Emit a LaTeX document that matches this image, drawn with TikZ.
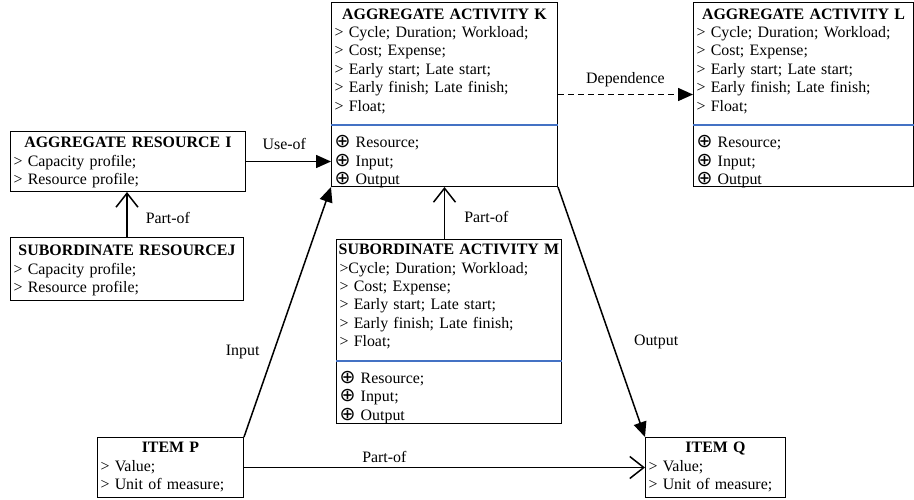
\documentclass[tikz,border=0pt]{standalone}
\usepackage{fontspec}
\setmainfont{Liberation Serif}
\newfontfamily\symfont{DejaVu Sans}
\usepackage{xcolor}
\definecolor{sepblue}{RGB}{68,114,196}
\usetikzlibrary{arrows.meta,positioning}
\newcommand{\boxfont}{\fontsize{15.9}{18.4}\selectfont}
\newcommand{\opl}{\smash{\symfont\fontsize{19}{18.4}\selectfont ⊕}}
\tikzstyle{classbox}=[draw=black, line width=1pt, anchor=north west, inner xsep=3pt, inner ysep=0pt, align=left, font=\boxfont]
\tikzstyle{sepline}=[draw=sepblue, line width=1.5pt]
\tikzstyle{useedge}=[-{Triangle[length=15pt,width=13pt]}, line width=1.5pt]
\tikzstyle{depedge}=[useedge, dash pattern=on 6pt off 4pt]
\tikzstyle{partedge}=[-{Straight Barb[length=14pt,width=22pt]}, line width=1.5pt]
\tikzstyle{edgelabel}=[font=\boxfont]

\begin{document}
\begin{tikzpicture}[x=1pt,y=-1pt]
\def\boxtitle#1{\makebox[\linewidth]{\bfseries #1}}
\def\actlines{> Cost; Expense;\\ > Early start; Late start;\\ > Early finish; Late finish;\\ > Float;\\ \mbox{}\\ \opl{} Resource;\\ \opl{} Input;\\ \opl{} Output}
\def\reslines{> Capacity profile;\\ > Resource profile;}
\def\itemlines{> Value;\\ > Unit of measure;}

    \useasboundingbox (0,0) rectangle (914,499);

    % activities
    \node[classbox, text width=220pt, text height=16.5pt, text depth=167.5pt] (K) at (331,2)
        {\boxtitle{AGGREGATE ACTIVITY K}\\ > Cycle; Duration; Workload;\\ \actlines};
    \node[classbox, text width=214pt, text height=16.5pt, text depth=167.5pt] (L) at (693,2)
        {\boxtitle{AGGREGATE ACTIVITY L}\\ > Cycle; Duration; Workload;\\ \actlines};
    \node[classbox, text width=219pt, text height=15.2pt, text depth=169pt] (M) at (336,239)
        {\boxtitle{SUBORDINATE ACTIVITY M}\\ >Cycle; Duration; Workload;\\ \actlines};

    \foreach \name / \d in {K/123, L/123, M/122}
        \draw[sepline] ([yshift=-\d pt]\name.north west) -- ([yshift=-\d pt]\name.north east);

    % resources
    \node[classbox, text width=229pt, text height=16.2pt, text depth=43.8pt] (I) at (10,131)
        {\boxtitle{AGGREGATE RESOURCE I}\\ \reslines};
    \node[classbox, text width=227pt, text height=18.2pt, text depth=44.8pt] (J) at (10,237)
        {\boxtitle{SUBORDINATE RESOURCEJ}\\ \reslines};

    % items
    \node[classbox, text width=140pt, text height=15.2pt, text depth=44.8pt] (P) at (97,437)
        {\boxtitle{ITEM P}\\ \itemlines};
    \node[classbox, text width=134pt, text height=15.2pt, text depth=44.8pt] (Q) at (645,437)
        {\boxtitle{ITEM Q}\\ \itemlines};

    \path (I.east) edge[useedge] node[edgelabel, above=7.5pt, pos=0.45]{Use-of} (K.west |- I.east);
    \path (J.north) edge[partedge] node[edgelabel, right=14.7pt, pos=0.43]{Part-of} (J.north |- I.south);
    \path (M.north -| K.south) edge[partedge] node[edgelabel, right=15.7pt, pos=0.42]{Part-of} (K.south);
    \path (K.east) edge[depedge] node[edgelabel, above=4pt]{Dependence} (L.west);
    \path (P.north east) edge[useedge] node[edgelabel, left=10pt, pos=0.34]{Input} (K.south west);
    \path (K.south east) edge[useedge] node[edgelabel, right=18pt, pos=0.62]{Output} (Q.north west);
    \path (P.east) edge[partedge] node[edgelabel, above=1pt, pos=0.35]{Part-of} (Q.west);

\end{tikzpicture}
\end{document}
